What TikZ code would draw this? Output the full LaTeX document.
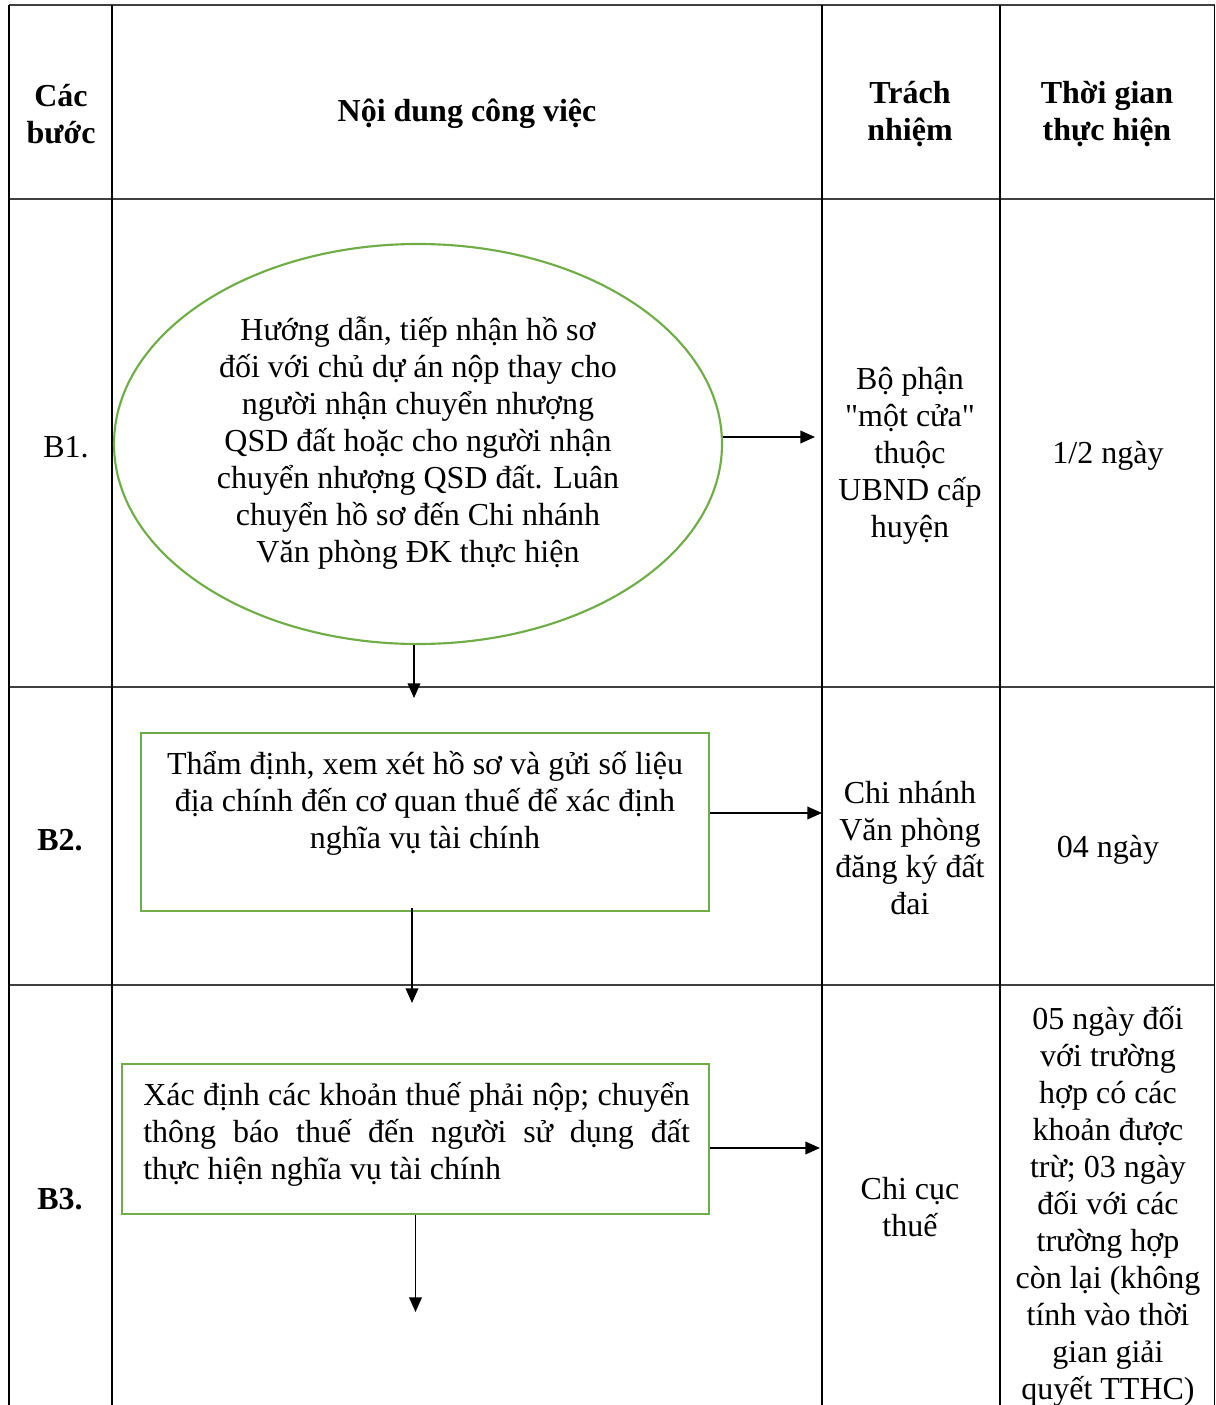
\documentclass[tikz,border=0pt]{standalone}
\usepackage{fontspec}
\setmainfont{Liberation Serif}[Ligatures=TeXOff]
\usetikzlibrary{shapes.geometric,arrows.meta}
\definecolor{boxgreen}{RGB}{112,173,71}
\definecolor{rulegray}{RGB}{64,64,64}
\newcommand{\fsz}{\fontsize{24}{27.75}\selectfont}
\begin{document}
\begin{tikzpicture}[x=0.75pt,y=-0.75pt,
  txt/.style={font=\fsz, align=center, inner sep=0pt},
  head/.style={txt, font=\fsz\bfseries},
  gbox/.style={draw=boxgreen, line width=1.6pt, rectangle, inner sep=0pt},
  gell/.style={draw=boxgreen, line width=1.6pt, ellipse, inner sep=0pt, align=center,
    font=\fsz},
  arr/.style={-{Triangle[length=11pt,width=9.5pt]}, line width=1.2pt},
  hrule/.style={draw=rulegray, line width=1.2pt},
  vrule/.style={draw=black, line width=0.8pt}]
\useasboundingbox (0,0) rectangle (1216,1405);
\fill[white] (0,0) rectangle (1216,1405);
% table
\draw[hrule] (9,5) -- (1215,5);
\draw[hrule] (9,199) -- (1215,199);
\draw[hrule] (9,687) -- (1215,687);
\draw[hrule] (9,985) -- (1215,985);
\foreach \xx in {9,112,822,1000,1214.5}{\draw[vrule] (\xx,5) -- (\xx,1405);}
% header
\node[head] (hcb) at (61,114) {Các\\bước};
\node[head] (hnd) at (467,114) {Nội dung công việc};
\node[head] (htn) at (910,114) {Trách\\nhiệm};
\node[head] (htg) at (1107,114) {Thời gian\\thực hiện};
% B1
\node[txt] (s1) at (66,447) {B1.};
\node[gell, minimum width=456pt, minimum height=300pt] (b1) at (418,444) {};
\node[txt] (b1t) at (418,443)
  {Hướng dẫn, tiếp nhận hồ sơ\\đối với chủ dự án nộp thay cho\\người nhận chuyển nhượng\\QSD đất hoặc cho người nhận\\chuyển nhượng QSD đất. Luân\\chuyển hồ sơ đến Chi nhánh\\Văn phòng ĐK thực hiện};
\node[txt] (r1) at (910,456) {Bộ phận\\"một cửa"\\thuộc\\UBND cấp\\huyện};
\node[txt] (t1) at (1108,456) {1/2 ngày};
\coordinate (a1) at (815,437);
\coordinate (d1) at (414,698);
\draw[arr] ([yshift=5.25pt]b1.east) -- (a1);
\draw[arr] ([xshift=-3pt]b1.south) -- (d1);
% B2
\node[head] (s2) at (60,840) {B2.};
\node[gbox, minimum width=426pt, minimum height=133.5pt] (b2) at (425,822) {};
\node[txt] (b2t) at (425,803) {Thẩm định, xem xét hồ sơ và gửi số liệu\\địa chính đến cơ quan thuế để xác định\\nghĩa vụ tài chính};
\node[txt] (r2) at (910,848) {Chi nhánh\\Văn phòng\\đăng ký đất\\đai};
\node[txt] (t2) at (1108,850) {04 ngày};
\coordinate (a2) at (822,813);
\coordinate (d2) at (412,1003);
\draw[arr] ([yshift=6.75pt]b2.east) -- (a2);
\draw[arr] ([xshift=-9.75pt,yshift=3pt]b2.south) -- (d2);
% B3
\node[head] (s3) at (60,1199) {B3.};
\node[gbox, minimum width=440.25pt, minimum height=112.5pt] (b3) at (415.5,1139) {};
\node[txt, align=justify, anchor=west, text width=410pt] (b3t) at (143,1134.5)
  {Xác định các khoản thuế phải nộp; chuyển\linebreak
   thông báo thuế đến người sử dụng đất\linebreak
   thực hiện nghĩa vụ tài chính};
\node[txt] (r3) at (910,1207) {Chi cục\\thuế};
\node[txt] (t3) at (1108,1206.5) {05 ngày đối\\với trường\\hợp có các\\khoản được\\trừ; 03 ngày\\đối với các\\trường hợp\\còn lại (không\\tính vào thời\\gian giải\\quyết TTHC)};
\coordinate (a3) at (820,1148);
\coordinate (d3) at (415.5,1312);
\draw[arr] ([yshift=-6.75pt]b3.east) -- (a3);
\draw[arr] (b3.south) -- (d3);
\end{tikzpicture}
\end{document}
